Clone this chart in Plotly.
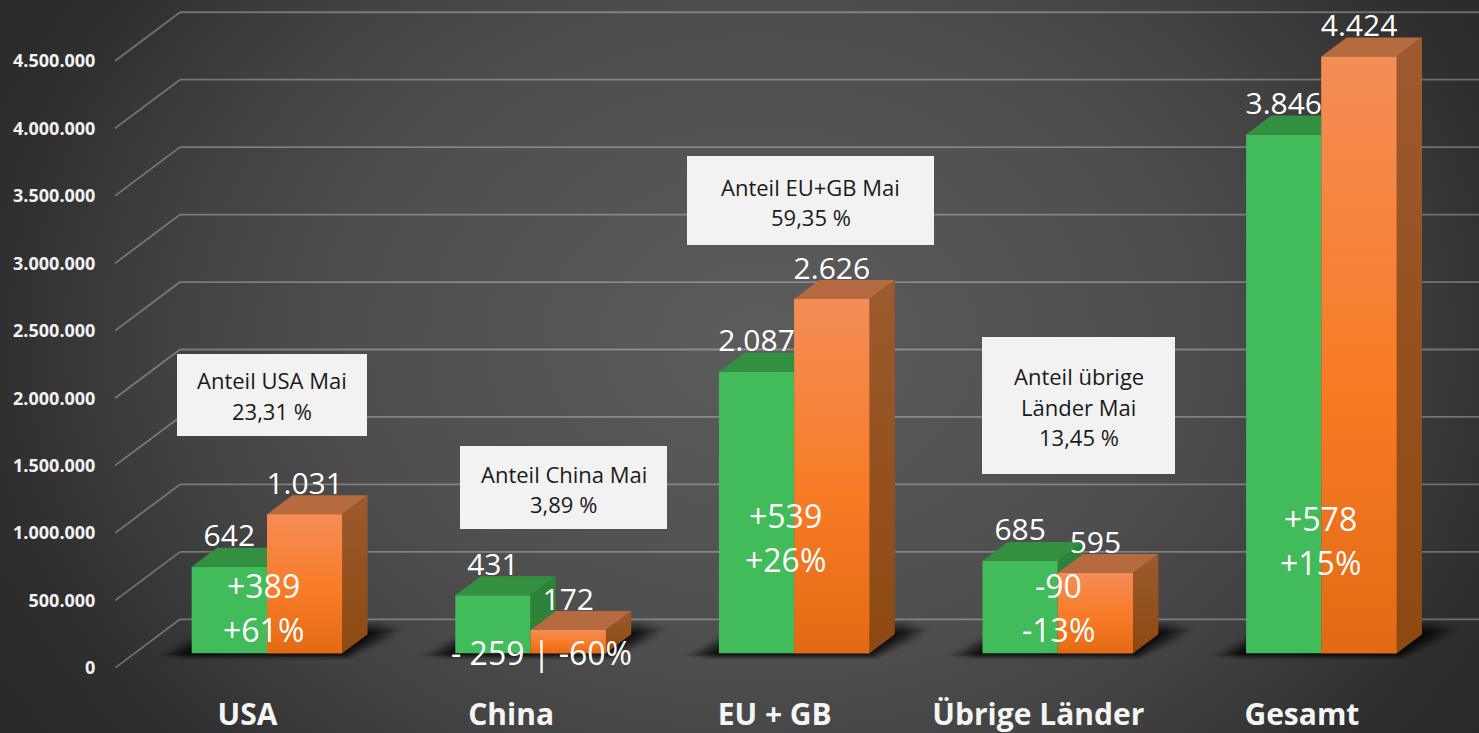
import base64
import plotly.graph_objects as go

# ---------- data ----------
categories = ["USA", "China", "EU + GB", "Übrige Länder", "Gesamt"]
april = [642000, 431000, 2087000, 685000, 3846000]
mai = [1031000, 172000, 2626000, 595000, 4424000]
y_ticks = [0, 500000, 1000000, 1500000, 2000000, 2500000, 3000000, 3500000, 4000000, 4500000]
change_lines = [["+389", "+61%"], ["- 259 | -60%"], ["+539", "+26%"], ["-90", "-13%"], ["+578", "+15%"]]
share_lines = [
    ["Anteil USA Mai", "23,31 %"],
    ["Anteil China Mai", "3,89 %"],
    ["Anteil EU+GB Mai", "59,35 %"],
    ["Anteil übrige", "Länder Mai", "13,45 %"],
]

# ---------- page geometry (pixels) ----------
W, H = 1479, 733
PLOT_L, PLOT_B = 115, 668
X0, X_STEP = 247.5, 263.6          # pixel of category 0, pixels per category
PX_PER_VALUE = 0.0001349           # pixels per unit on the value axis
WALL_DX, WALL_DY = 65, 48.7        # depth of the floor
BAR_DX, BAR_DY = 25.3, 19          # depth of a bar
FRONT_DX, FRONT_DY = 19.5, 14.7    # how far bars stand behind the front edge
BAR_W = 75.3


def ux(px):
    return px / X_STEP


def uy(px):
    return px / PX_PER_VALUE


def data_x(page_px):
    return (page_px - X0) / X_STEP


def data_y(page_py):
    return (PLOT_B - page_py) / PX_PER_VALUE


FLOOR = uy(FRONT_DY)
X_RANGE = [data_x(PLOT_L), data_x(W)]
Y_RANGE = [0, uy(PLOT_B)]

ORANGE_FRONT = [[0, "#E36A14"], [0.45, "#F87B26"], [1, "#F48D56"]]
ORANGE_SIDE = [[0, "#8D4910"], [1, "#9C5A2E"]]

fig = go.Figure()

# front faces of the bars
for vals, off, col, name in [(april, -BAR_W / 2, "#42BC5A", "April"), (mai, BAR_W / 2, "#F47F30", "Mai")]:
    fig.add_trace(go.Bar(
        x=[i + ux(FRONT_DX + off) for i in range(len(categories))],
        y=vals, base=[FLOOR] * len(vals), width=ux(BAR_W), name=name,
        marker=dict(color=col, line=dict(width=0)), showlegend=False, hoverinfo="skip",
    ))


def poly(xs, ys, color=None, gradient=None):
    kw = dict(fillcolor=color) if color else dict(fillgradient=dict(type="vertical", colorscale=gradient))
    fig.add_trace(go.Scatter(x=xs + xs[:1], y=ys + ys[:1], mode="lines", fill="toself",
                             line=dict(width=0), hoverinfo="skip", showlegend=False, **kw))


for i in range(len(categories)):
    mid = i + ux(FRONT_DX)
    w, ddx, ddy = ux(BAR_W), ux(BAR_DX), uy(BAR_DY)
    ga, ma = FLOOR + april[i], FLOOR + mai[i]
    # green top and side
    poly([mid - w, mid, mid + ddx, mid - w + ddx], [ga, ga, ga + ddy, ga + ddy], color="#329040")
    poly([mid, mid + ddx, mid + ddx, mid], [FLOOR, FLOOR + ddy, ga + ddy, ga], color="#2B8238")
    # orange front, top and side
    poly([mid, mid + w, mid + w, mid], [FLOOR, FLOOR, ma, ma], gradient=ORANGE_FRONT)
    poly([mid, mid + w, mid + w + ddx, mid + ddx], [ma, ma, ma + ddy, ma + ddy], color="#B56A40")
    poly([mid + w, mid + w + ddx, mid + w + ddx, mid + w], [FLOOR, FLOOR + ddy, ma + ddy, ma], gradient=ORANGE_SIDE)

# value labels
label_x, label_y, label_t = [], [], []
for i in range(len(categories)):
    for vals, off in [(april, -BAR_W / 2), (mai, BAR_W / 2)]:
        label_x.append(i + ux(FRONT_DX + off))
        label_y.append(FLOOR + vals[i] + uy(28))
        label_t.append(f"{vals[i] // 1000:,}".replace(",", "."))
fig.add_trace(go.Scatter(x=label_x, y=label_y, text=label_t, mode="text", textposition="middle center",
                         textfont=dict(family="Open Sans", size=30, color="#FFFFFF"),
                         hoverinfo="skip", showlegend=False))

# ---------- shapes ----------
shapes = []
# floor shadows: many faint nested polygons, so the edge fades out
LAYERS = 26
for i in range(len(categories)):
    mid_px = X0 + X_STEP * i + FRONT_DX
    l, r = mid_px - BAR_W, mid_px + BAR_W
    back_r, back_l = (r + BAR_DX, 634), (l + BAR_DX, 634)
    inner = [(l, 653), (l, 653), (r, 653), back_r, back_r, back_r, back_l]
    outer = [(l - 38, 656), (l - 10, 660), (r + 8, 660), (r + 48, 642), (r + 64, 628), (r + 40, 620), (l + 26, 620)]
    for k in range(LAYERS):
        t = (k / (LAYERS - 1)) ** 0.65
        pts = [(o[0] + (n[0] - o[0]) * t, o[1] + (n[1] - o[1]) * t) for o, n in zip(outer, inner)]
        path = "M" + " L".join(f"{data_x(a):.5f},{data_y(b):.1f}" for a, b in pts) + " Z"
        shapes.append(dict(type="path", path=path, xref="x", yref="y", layer="below",
                           fillcolor="rgba(0,0,0,0.05)", line=dict(width=0)))
# wall and floor lines
GRID = dict(color="rgba(255,255,255,0.30)", width=1.8)
for v in y_ticks:
    xa, xb, xc = X_RANGE[0], data_x(PLOT_L + WALL_DX), X_RANGE[1]
    yb = v + uy(WALL_DY)
    shapes.append(dict(type="line", xref="x", yref="y", x0=xa, x1=xb, y0=v, y1=yb, line=GRID, layer="below"))
    shapes.append(dict(type="line", xref="x", yref="y", x0=xb, x1=xc, y0=yb, y1=yb, line=GRID, layer="below"))

# share boxes: left, top, right, bottom in page pixels, and each line's centre
share_boxes = [(177, 354, 367, 436), (460, 446, 667, 529), (687, 156, 934, 245), (982, 337, 1175, 474)]
share_text_y = [[380, 411], [474, 504], [187, 217], [376, 407, 437]]
annotations = []
for box, lines, ys in zip(share_boxes, share_lines, share_text_y):
    shapes.append(dict(type="rect", xref="x", yref="y", layer="above",
                       x0=data_x(box[0]), x1=data_x(box[2]), y0=data_y(box[3]), y1=data_y(box[1]),
                       fillcolor="#F2F2F2", line=dict(width=0)))
    for line, py in zip(lines, ys):
        annotations.append(dict(x=data_x((box[0] + box[2]) / 2), y=data_y(py), xref="x", yref="y", text=line,
                                showarrow=False, xanchor="center", yanchor="middle",
                                font=dict(family="Open Sans", size=22, color="#1A1A1A")))

# change labels, placed by hand as in the original slide
change_x = [263, 541.7, 785, 1058, 1320]
change_y = [[585, 629], [652.7], [515, 559], [585, 629], [518, 562]]
for px, ys, lines in zip(change_x, change_y, change_lines):
    for py, line in zip(ys, lines):
        annotations.append(dict(x=data_x(px), y=data_y(py), xref="x", yref="y", text=line,
                                showarrow=False, xanchor="center", yanchor="middle",
                                font=dict(family="Open Sans", size=32, color="#FFFFFF")))

# ---------- background ----------
svg = f"""<svg xmlns='http://www.w3.org/2000/svg' width='{W}' height='{H}' viewBox='0 0 {W} {H}'>
<defs><radialGradient id='g' gradientUnits='userSpaceOnUse' cx='0' cy='0' r='1'
gradientTransform='translate(760 340) scale(900 700)'>
<stop offset='0' stop-color='#5C5C5C'/><stop offset='0.45' stop-color='#4E4E4E'/>
<stop offset='0.65' stop-color='#424242'/><stop offset='0.85' stop-color='#2F2F2F'/>
<stop offset='1' stop-color='#282828'/></radialGradient></defs>
<rect width='{W}' height='{H}' fill='url(#g)'/></svg>"""
bg = "data:image/svg+xml;base64," + base64.b64encode(svg.encode()).decode()
plot_w, plot_h = W - PLOT_L, PLOT_B

fig.update_layout(
    width=W, height=H, autosize=False,
    margin=dict(l=PLOT_L, r=0, t=0, b=H - PLOT_B, pad=0, autoexpand=False),
    paper_bgcolor="#3A3A3A", plot_bgcolor="rgba(0,0,0,0)",
    barmode="overlay", separators=",.", showlegend=False,
    font=dict(family="Open Sans", color="#F2F2F2"),
    images=[dict(source=bg, xref="paper", yref="paper", x=-PLOT_L / plot_w, y=1,
                 sizex=W / plot_w, sizey=H / plot_h, xanchor="left", yanchor="top",
                 sizing="stretch", layer="below")],
    shapes=shapes, annotations=annotations,
    xaxis=dict(range=X_RANGE, tickmode="array", tickvals=list(range(len(categories))), ticktext=categories,
               showgrid=False, zeroline=False, showline=False, ticks="outside", ticklen=20, automargin=False,
               tickcolor="rgba(0,0,0,0)", tickfont=dict(family="Open Sans", size=30, color="#F5F5F5", weight="bold"),
               fixedrange=True),
    yaxis=dict(range=Y_RANGE, tickmode="array", tickvals=y_ticks, tickformat=",d", automargin=False,
               showgrid=False, zeroline=False, showline=False, ticks="outside", ticklen=15,
               tickcolor="rgba(0,0,0,0)", tickfont=dict(family="Open Sans", size=18, color="#F2F2F2", weight="bold"),
               fixedrange=True),
)

fig.write_html("out.html", config={"displayModeBar": False},
               post_script="document.body.style.margin='0';document.body.style.overflow='hidden';")
